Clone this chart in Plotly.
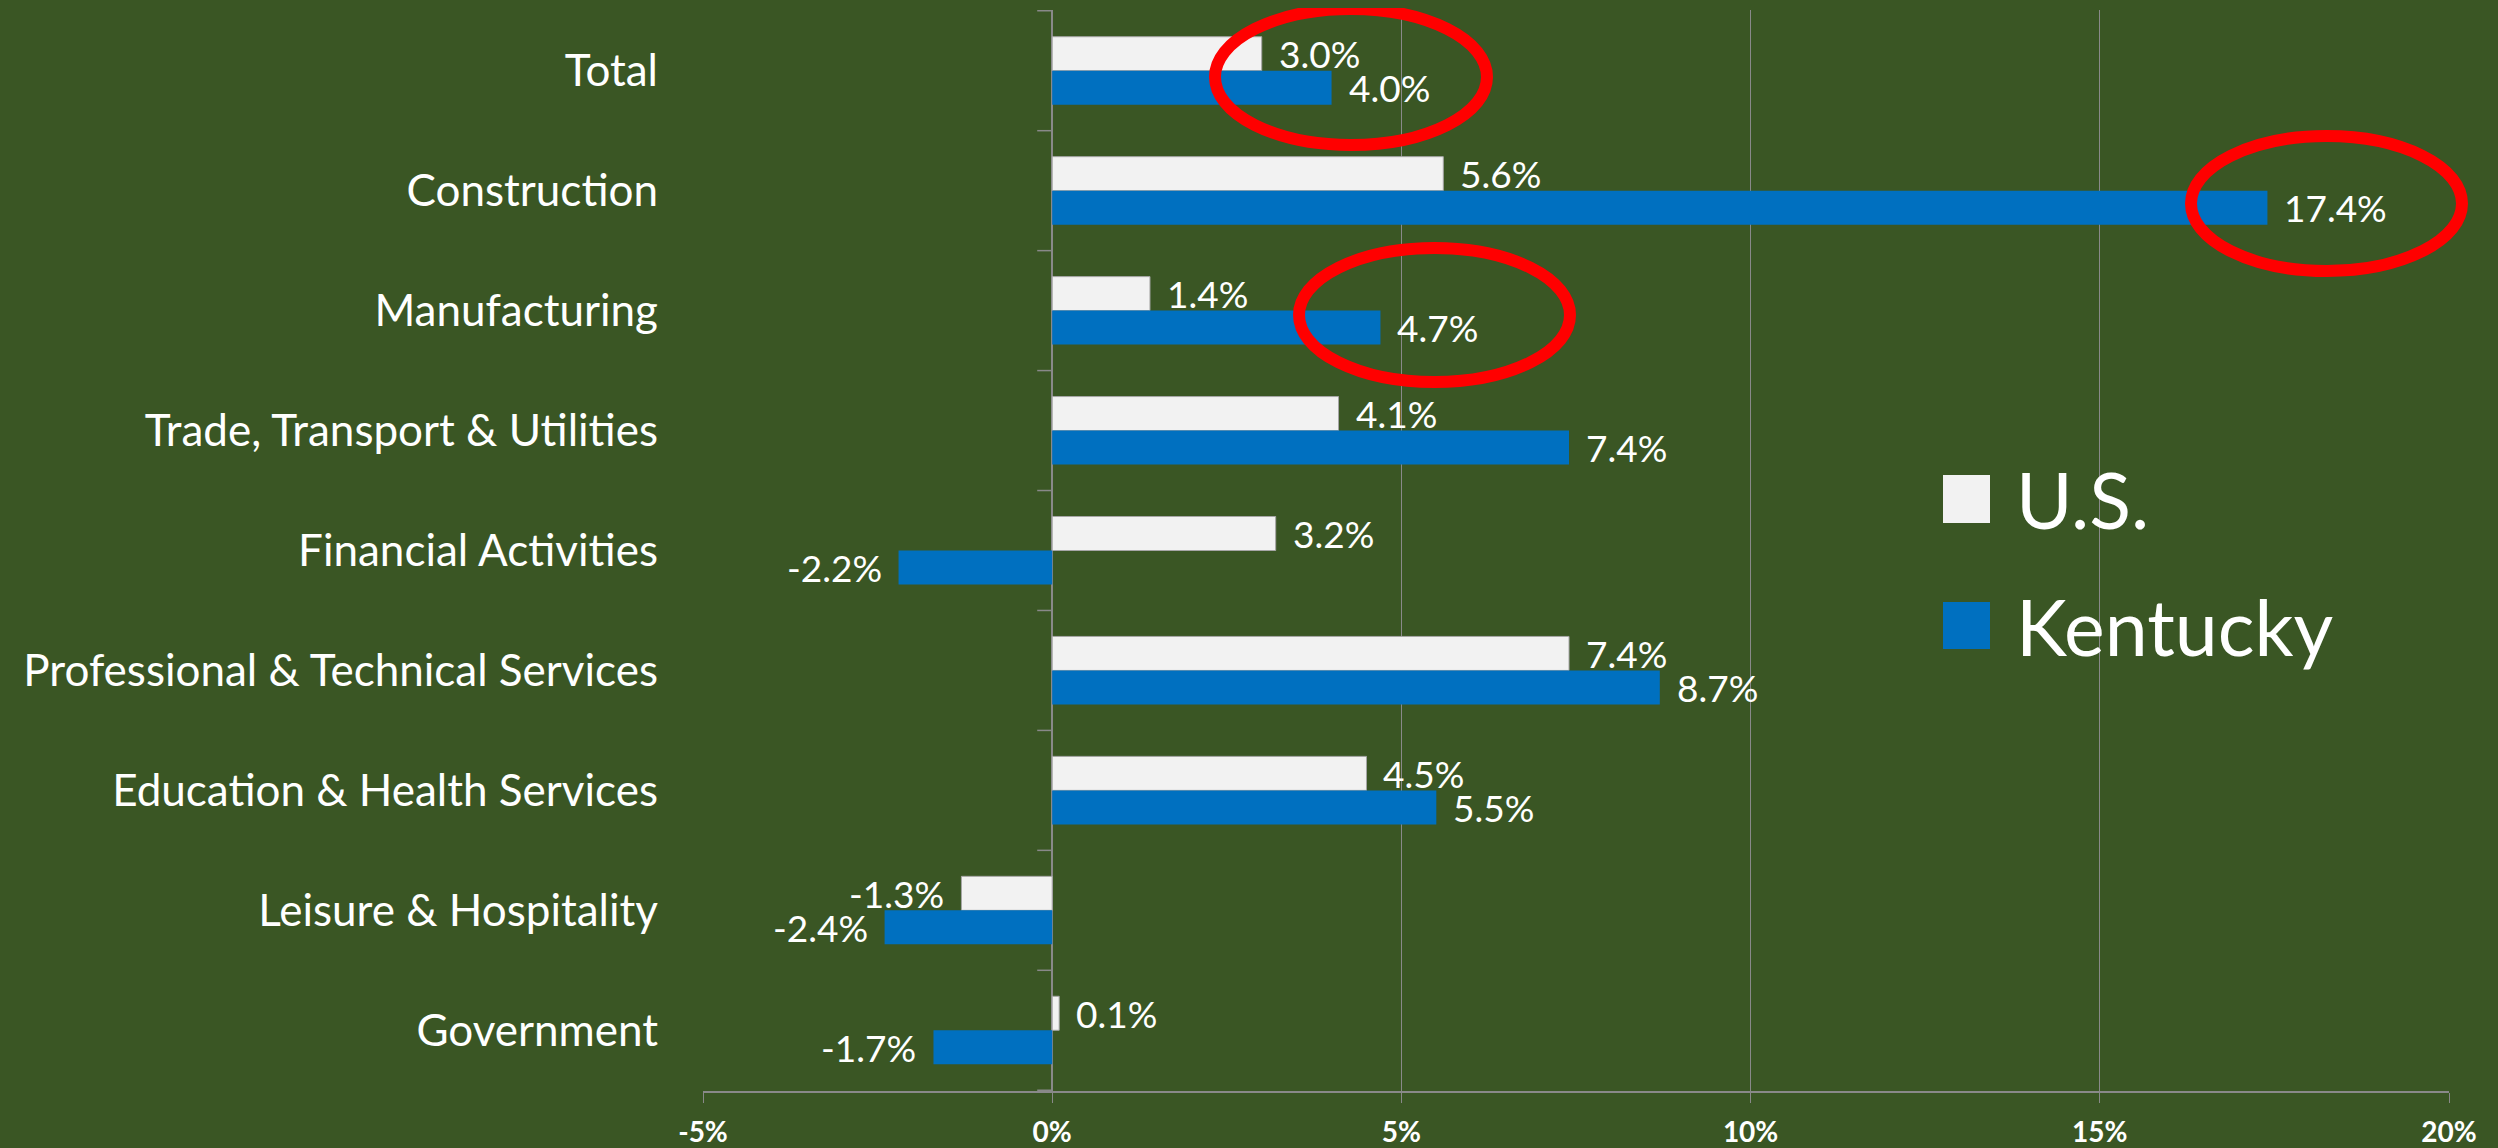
import plotly.graph_objects as go

categories = ["Total", "Construction", "Manufacturing", "Trade, Transport & Utilities",
              "Financial Activities", "Professional & Technical Services",
              "Education & Health Services", "Leisure & Hospitality", "Government"]
us_values = [3.0, 5.6, 1.4, 4.1, 3.2, 7.4, 4.5, -1.3, 0.1]
ky_values = [4.0, 17.4, 4.7, 7.4, -2.2, 8.7, 5.5, -2.4, -1.7]
series_names = ["U.S.", "Kentucky"]
x_ticks = [-5, 0, 5, 10, 15, 20]
x_tick_labels = ["-5%", "0%", "5%", "10%", "15%", "20%"]

BG = "#3A5624"
GRID = "#898989"
US_COLOR = "#F2F2F2"
KY_COLOR = "#0070C0"
FONT = "Lato"

OFF = 8  # page body margin
W, H = 2490, 1140
ML, MR, MT, MB = 695, 49, 2, 57

fig = go.Figure()
fig.add_trace(go.Bar(y=categories, x=us_values, orientation="h", name=series_names[0],
                     marker=dict(color=US_COLOR, line=dict(color="#A6A6A6", width=1))))
fig.add_trace(go.Bar(y=categories, x=ky_values, orientation="h", name=series_names[1],
                     marker=dict(color=KY_COLOR, line=dict(width=0))))

annotations = []
for vals, ys in ((us_values, 17), (ky_values, -17)):
    for cat, v in zip(categories, vals):
        annotations.append(dict(
            x=v, y=cat, xref="x", yref="y", text=f"{v:.1f}%", showarrow=False,
            xanchor="left" if v >= 0 else "right", xshift=15 if v >= 0 else -15,
            yanchor="middle", yshift=ys,
            font=dict(family=FONT, size=37, color="white")))

# legend (manual, large squares)
pw = W - ML - MR
ph = H - MT - MB
def px(x):
    return (x - OFF - ML) / pw
def py(y):
    return (H - MB - (y - OFF)) / ph

shapes = []
for name, color, top, bot in ((series_names[0], US_COLOR, 475, 523), (series_names[1], KY_COLOR, 602, 649)):
    shapes.append(dict(type="rect", xref="paper", yref="paper", x0=px(1943), x1=px(1990),
                       y0=py(bot), y1=py(top), fillcolor=color, line=dict(width=0)))
    annotations.append(dict(x=px(2014), y=py((top + bot) / 2), xref="paper", yref="paper",
                            text=name, showarrow=False, xanchor="left", yanchor="middle",
                            font=dict(family=FONT, size=77, color="white")))

# category tick marks on the zero axis
for i in range(len(categories) + 1):
    shapes.append(dict(type="line", xref="x", yref="y", xsizemode="pixel", xanchor=0,
                       x0=-15, x1=0, y0=i - 0.5, y1=i - 0.5, line=dict(color=GRID, width=1.5)))

# red highlight ellipses
for l, r, t, b in ((1215, 1487, 9, 145), (2191, 2462, 136, 271), (1299, 1570, 248, 382)):
    shapes.append(dict(type="circle", xref="paper", yref="paper", x0=px(l), x1=px(r),
                       y0=py(b), y1=py(t), line=dict(color="#FF0000", width=12),
                       fillcolor="rgba(0,0,0,0)", layer="above"))

fig.update_layout(
    width=W, height=H,
    margin=dict(l=ML, r=MR, t=MT, b=MB, autoexpand=False),
    paper_bgcolor=BG, plot_bgcolor=BG,
    barmode="group", bargap=0.433, bargroupgap=0,
    showlegend=False,
    annotations=annotations, shapes=shapes,
    xaxis=dict(range=[-5, 20], tickvals=x_ticks, ticktext=x_tick_labels, automargin=False,
               showgrid=True, gridcolor=GRID, gridwidth=1,
               zeroline=True, zerolinecolor=GRID, zerolinewidth=1.5,
               showline=True, linecolor=GRID, linewidth=1.5,
               ticks="outside", ticklen=10, tickcolor=GRID, tickwidth=1,
               ticklabelstandoff=6,
               tickfont=dict(family=FONT, size=28, color="white", weight="bold")),
    yaxis=dict(categoryorder="array", categoryarray=categories, autorange="reversed",
               automargin=False,
               showgrid=False, zeroline=False, showline=False, ticks="",
               ticklabelstandoff=44,
               tickfont=dict(family=FONT, size=44, color="white")),
)

fig.write_html(
    "out.html",
    post_script=(f"document.body.style.backgroundColor='{BG}';"
                 f"document.documentElement.style.backgroundColor='{BG}';"
                 "document.documentElement.style.overflow='hidden';"),
)
